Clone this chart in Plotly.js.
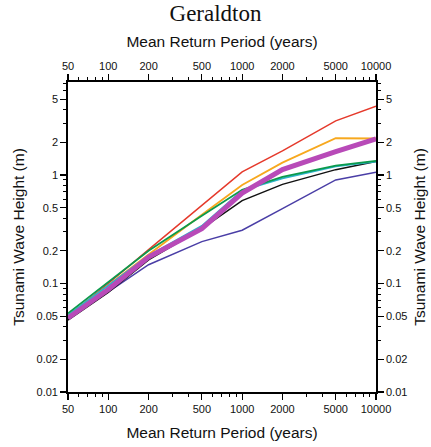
<!DOCTYPE html>
<html>
<head>
<meta charset="utf-8">
<script src="https://cdn.plot.ly/plotly-3.0.1.min.js"></script>
<style>html,body{margin:0;padding:0;background:#fff;}#chart{width:431px;height:447px;}</style>
</head>
<body>
<div id="chart"></div>
<script>
const returnPeriods = [50, 100, 200, 500, 1000, 2000, 5000, 10000];
const redSeries     = [0.050, 0.100, 0.205, 0.53, 1.07, 1.67, 3.15, 4.3];
const orangeSeries  = [0.050, 0.097, 0.185, 0.43, 0.81, 1.30, 2.18, 2.17];
const greenSeries   = [0.053, 0.102, 0.200, 0.42, 0.73, 0.96, 1.22, 1.35];
const cyanSeries    = [0.051, 0.095, 0.180, 0.34, 0.72, 0.93, 1.20, 1.33];
const magentaSeries = [0.048, 0.088, 0.175, 0.32, 0.68, 1.12, 1.64, 2.15];
const blackSeries   = [0.046, 0.083, 0.165, 0.32, 0.58, 0.82, 1.12, 1.33];
const blueSeries    = [0.047, 0.084, 0.149, 0.243, 0.31, 0.49, 0.90, 1.06];

const xTickVals = [50, 100, 200, 500, 1000, 2000, 5000, 10000];
const xTickText = ['50', '100', '200', '500', '1000', '2000', '5000', '10000'];
const yTickVals = [0.01, 0.02, 0.05, 0.1, 0.2, 0.5, 1, 2, 5];
const yTickText = ['0.01', '0.02', '0.05', '0.1', '0.2', '0.5', '1', '2', '5'];
const xMinorVals = [60,70,80,90,300,400,600,700,800,900,3000,4000,6000,7000,8000,9000];
const yMinorVals = [0.03,0.04,0.06,0.07,0.08,0.09,0.3,0.4,0.6,0.7,0.8,0.9,3,4,6,7];

const series = [
  {y: blueSeries, color: '#4a3ea6', width: 1.5},
  {y: blackSeries, color: '#111111', width: 1.5},
  {y: redSeries, color: '#e5392b', width: 1.5},
  {y: orangeSeries, color: '#f7a81e', width: 1.8},
  {y: cyanSeries, color: '#2bb3c9', width: 1.8},
  {y: greenSeries, color: '#0b9a4c', width: 1.8},
  {y: magentaSeries, color: '#b84ab8', width: 5}
];

const traces = series.map(s => ({
  x: returnPeriods, y: s.y, type: 'scatter', mode: 'lines',
  line: {color: s.color, width: s.width}, hoverinfo: 'skip', showlegend: false
}));
// invisible trace to activate the mirrored top / right axes
traces.push({x: returnPeriods, y: redSeries, xaxis: 'x2', yaxis: 'y2', type: 'scatter', mode: 'lines',
  line: {color: 'rgba(0,0,0,0)', width: 0}, hoverinfo: 'skip', showlegend: false});

const font = {family: 'Liberation Sans, Arial, sans-serif', color: '#111', size: 11};
const titleFont = {family: 'Liberation Sans, Arial, sans-serif', size: 15.5, color: '#111'};
const xr = [Math.log10(50), 4];
const yr = [-2, 0.857];

const xCommon = {
  type: 'log', range: xr, tickmode: 'array', tickvals: xTickVals, ticktext: xTickText,
  ticks: 'outside', ticklen: 6, tickwidth: 1.2, tickcolor: '#000',
  showline: true, linecolor: '#000', linewidth: 1.8, showgrid: false, zeroline: false,
  tickfont: font,
  minor: {tickmode: 'array', tickvals: xMinorVals, ticks: 'outside', ticklen: 3, tickwidth: 1, tickcolor: '#000', showgrid: false}
};
const yCommon = {
  type: 'log', range: yr, tickmode: 'array', tickvals: yTickVals, ticktext: yTickText,
  ticks: 'outside', ticklen: 6, tickwidth: 1.2, tickcolor: '#000',
  showline: true, linecolor: '#000', linewidth: 1.8, showgrid: false, zeroline: false,
  tickfont: font,
  minor: {tickmode: 'array', tickvals: yMinorVals, ticks: 'outside', ticklen: 3, tickwidth: 1, tickcolor: '#000', showgrid: false},
  title: {text: 'Tsunami Wave Height (m)', font: titleFont, standoff: 8}
};

const layout = {
  width: 431, height: 447,
  margin: {l: 68, r: 55, t: 82, b: 55},
  paper_bgcolor: '#fff', plot_bgcolor: '#fff',
  showlegend: false,
  title: {text: 'Geraldton', font: {family: 'Liberation Serif, Times New Roman, serif', size: 23, color: '#111'},
          x: 0.5, xanchor: 'center', y: 0.99, yanchor: 'top'},
  xaxis: Object.assign({}, xCommon, {side: 'bottom', title: {text: 'Mean Return Period (years)', font: titleFont, standoff: 13}}),
  yaxis: Object.assign({}, yCommon, {side: 'left'}),
  xaxis2: Object.assign({}, xCommon, {side: 'top', overlaying: 'x', anchor: 'y', title: {text: 'Mean Return Period (years)', font: titleFont, standoff: 8}}),
  yaxis2: Object.assign({}, yCommon, {side: 'right', overlaying: 'y', anchor: 'x'})
};

Plotly.newPlot('chart', traces, layout, {staticPlot: true, displayModeBar: false});
</script>
</body>
</html>
